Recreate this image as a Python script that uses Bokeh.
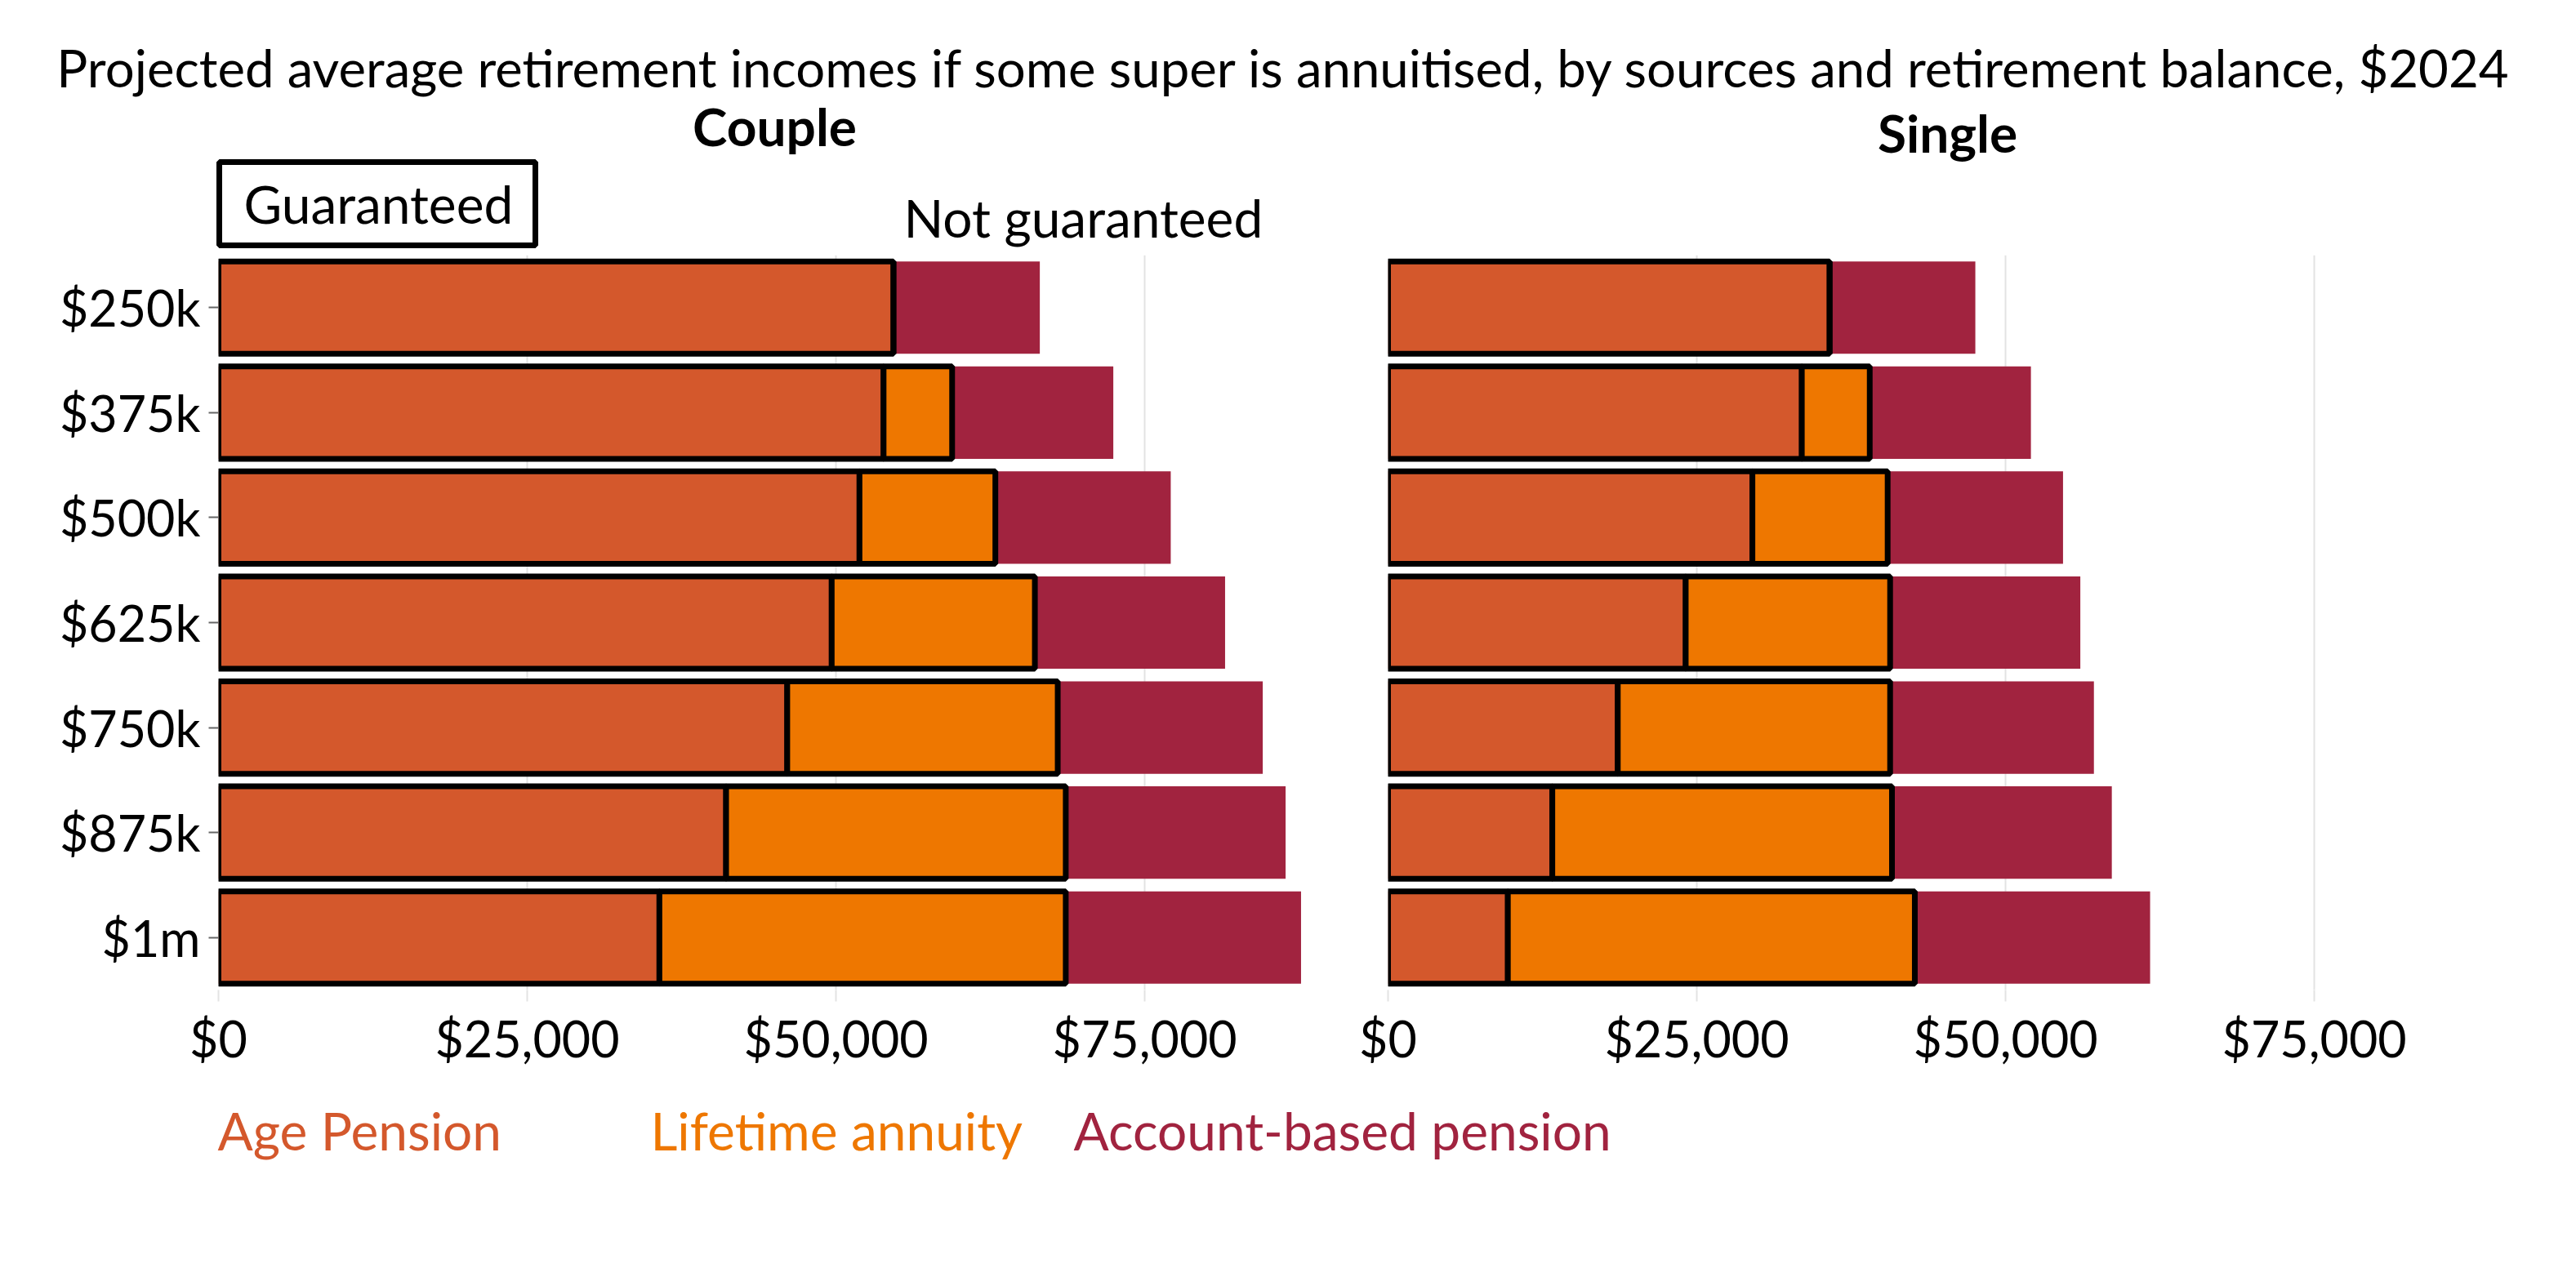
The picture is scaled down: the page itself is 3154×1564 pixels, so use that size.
import numpy as np
from bokeh.plotting import figure
from bokeh.layouts import column, row
from bokeh.models import (ColumnDataSource, FactorRange, Range1d, FixedTicker,
                          NumeralTickFormatter)
from bokeh.core.properties import value
from bokeh.embed import file_html
from bokeh.resources import INLINE

# ---------------- data ----------------
balances = ["$250k", "$375k", "$500k", "$625k", "$750k", "$875k", "$1m"]

couple_age_pension = [54650, 53850, 51900, 49650, 46050, 41100, 35700]
couple_annuity     = [0, 5550, 11000, 16450, 21900, 27500, 32900]
couple_abp         = [11850, 13050, 14200, 15400, 16600, 17800, 19050]

single_age_pension = [35750, 33500, 29500, 24100, 18600, 13300, 9700]
single_annuity     = [0, 5500, 10950, 16550, 22050, 27500, 32950]
single_abp         = [11800, 13050, 14200, 15400, 16500, 17800, 19050]

x_ticks = [0, 25000, 50000, 75000]
series_names = ["Age Pension", "Lifetime annuity", "Account-based pension"]
colors = ["#D4582C", "#EE7700", "#A1233F"]
panel_names = ["Couple", "Single"]

title_text = ("Projected average retirement incomes if some super is annuitised, "
              "by sources and retirement balance, $2024")

FONT = "Lato"
X_MAX = 90000
TOTAL_W = 3150
HEADER_H = 312
FRAME_H = 900
BOTTOM_B = 98
FOOTER_H = 140
P1_W = 1638


def make_panel(ap, ann, abp, width, left_border, right_border, show_y):
    ap = np.array(ap, dtype=float)
    ann = np.array(ann, dtype=float)
    abp = np.array(abp, dtype=float)
    src = ColumnDataSource(dict(
        bal=balances,
        ap_r=ap,
        ann_l=ap, ann_r=ap + ann,
        abp_l=ap + ann, abp_r=ap + ann + abp,
    ))
    p = figure(width=width, height=FRAME_H + BOTTOM_B,
               y_range=FactorRange(factors=list(reversed(balances))),
               x_range=Range1d(0, X_MAX),
               output_backend="svg", toolbar_location=None)
    p.min_border_left = left_border
    p.min_border_right = right_border
    p.min_border_top = 0
    p.min_border_bottom = BOTTOM_B
    p.outline_line_color = None
    p.background_fill_color = "white"
    p.border_fill_color = "white"

    h = 0.88
    p.hbar(y="bal", left="abp_l", right="abp_r", height=h, source=src,
           fill_color=colors[2], line_color=None)
    p.hbar(y="bal", left=0, right="ap_r", height=h, source=src,
           fill_color=colors[0], line_color="black", line_width=7)
    p.hbar(y="bal", left="ann_l", right="ann_r", height=h, source=src,
           fill_color=colors[1], line_color="black", line_width=7)

    p.ygrid.grid_line_color = None
    p.xgrid.grid_line_color = "#E3E3E3"
    p.xgrid.grid_line_width = 2
    p.xaxis.ticker = FixedTicker(ticks=x_ticks)
    p.xgrid.ticker = FixedTicker(ticks=x_ticks)
    p.xaxis.formatter = NumeralTickFormatter(format="$0,0")
    p.xaxis.axis_line_color = None
    p.xaxis.major_tick_line_color = "#E3E3E3"
    p.xaxis.major_tick_line_width = 2
    p.xaxis.major_tick_in = 0
    p.xaxis.major_tick_out = 14
    p.xaxis.minor_tick_line_color = None
    p.xaxis.major_label_text_font = FONT
    p.xaxis.major_label_text_font_size = "61px"
    p.xaxis.major_label_text_color = "black"
    p.xaxis.major_label_standoff = 8

    if show_y:
        p.yaxis.axis_line_color = None
        p.yaxis.major_tick_line_color = "#666666"
        p.yaxis.major_tick_line_width = 2
        p.yaxis.major_tick_in = 0
        p.yaxis.major_tick_out = 12
        p.yaxis.major_label_text_font = FONT
        p.yaxis.major_label_text_font_size = "61px"
        p.yaxis.major_label_text_color = "black"
        p.yaxis.major_label_standoff = 10
    else:
        p.yaxis.visible = False
    return p


p1 = make_panel(couple_age_pension, couple_annuity, couple_abp,
                P1_W, 267, P1_W - 1628, True)
p2 = make_panel(single_age_pension, single_annuity, single_abp,
                TOTAL_W - P1_W, 1699 - P1_W, TOTAL_W - 3060, False)


def blank(width, height):
    f = figure(width=width, height=height, x_range=Range1d(0, width),
               y_range=Range1d(height, 0), output_backend="svg",
               toolbar_location=None)
    f.min_border = 0
    f.min_border_left = 0
    f.min_border_right = 0
    f.min_border_top = 0
    f.min_border_bottom = 0
    f.axis.visible = False
    f.grid.grid_line_color = None
    f.outline_line_color = None
    f.background_fill_color = "white"
    f.border_fill_color = "white"
    return f


# header: main title, panel headings, guaranteed / not guaranteed key
header = blank(TOTAL_W, HEADER_H)
header.text(x=[1572], y=[82], text=[title_text],
            text_font=value(FONT), text_font_size=value("63.5px"),
            text_align="center", text_baseline="middle", text_color="black")
header.text(x=[948, 2384], y=[154, 162], text=panel_names,
            text_font=value(FONT), text_font_size=value("64px"),
            text_font_style="bold",
            text_align="center", text_baseline="middle", text_color="black")
header.quad(left=[268], right=[655], top=[198], bottom=[300],
            fill_color="white", line_color="black", line_width=7)
header.text(x=[298], y=[249], text=["Guaranteed"],
            text_font=value(FONT), text_font_size=value("64px"),
            text_align="left", text_baseline="middle", text_color="black")
header.text(x=[1106], y=[266], text=["Not guaranteed"],
            text_font=value(FONT), text_font_size=value("64px"),
            text_align="left", text_baseline="middle", text_color="black")

# footer: coloured series key
footer = blank(TOTAL_W, FOOTER_H)
legend_x = [266, 796, 1314]
footer.text(x=legend_x, y=[74, 74, 74], text=series_names,
            text_font=value(FONT), text_font_size=value("64px"),
            text_align="left", text_baseline="middle", text_color=colors)

layout = column(header, row(p1, p2), footer)
open("out.html", "w").write(file_html(layout, INLINE))
